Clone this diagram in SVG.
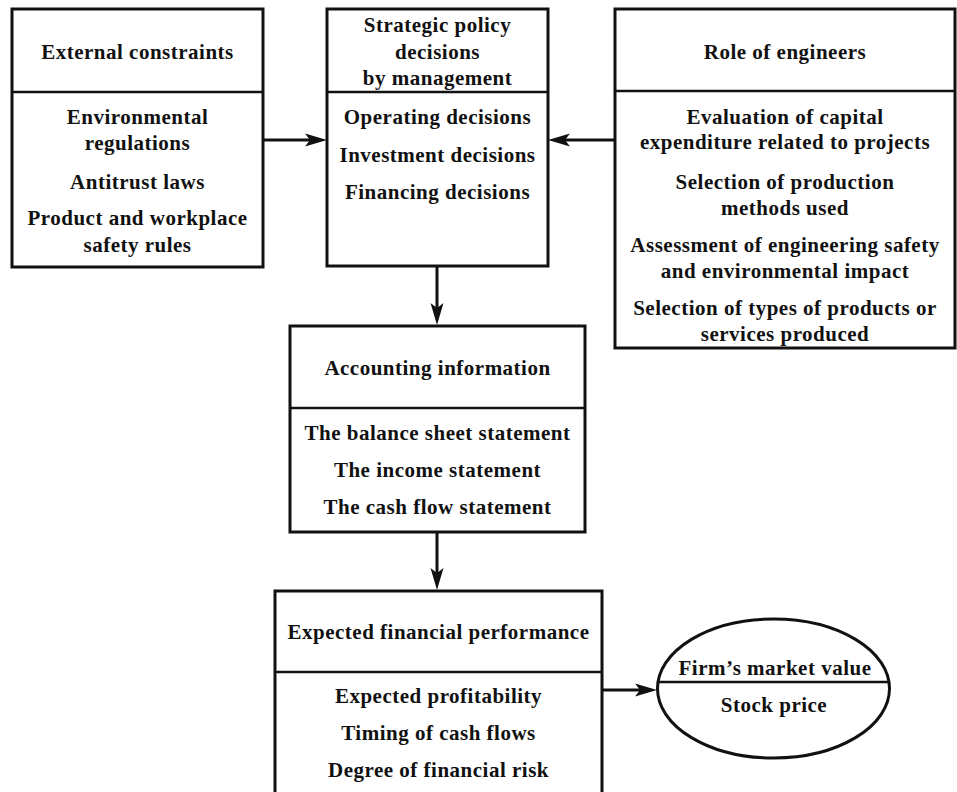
<svg xmlns="http://www.w3.org/2000/svg" width="957" height="792" viewBox="0 0 957 792">
<style>
  .box { fill: #ffffff; stroke: #111111; stroke-width: 3; }
  .div { stroke: #111111; stroke-width: 2.5; }
  .conn { stroke: #111111; stroke-width: 3; fill: none; }
  text { font-family: "Liberation Serif", "Times New Roman", serif; font-weight: bold; font-size: 21px; letter-spacing: 0.5px; fill: #111111; text-anchor: middle; }
</style>
<defs>
  <marker id="arr" markerUnits="userSpaceOnUse" markerWidth="24" markerHeight="16" viewBox="0 -8 24 16" refX="12" refY="0" orient="auto">
    <path d="M22,0 L0,-6.5 L5,0 L0,6.5 Z" fill="#111111"/>
  </marker>
</defs>
<rect width="957" height="792" fill="#ffffff"/>

<g id="connectors">
  <line class="conn" x1="263" y1="140" x2="317" y2="140" marker-end="url(#arr)"/>
  <line class="conn" x1="615" y1="140" x2="558" y2="140" marker-end="url(#arr)"/>
  <line class="conn" x1="437" y1="266" x2="437" y2="315" marker-end="url(#arr)"/>
  <line class="conn" x1="437" y1="532" x2="437" y2="580" marker-end="url(#arr)"/>
  <line class="conn" x1="602" y1="690" x2="647" y2="690" marker-end="url(#arr)"/>
</g>

<g id="external-constraints">
  <rect class="box" x="12" y="9" width="251" height="258"/>
  <line class="div" x1="12" y1="92" x2="263" y2="92"/>
  <text x="137.5" y="59">External constraints</text>
  <text x="137.5" y="124">Environmental</text>
  <text x="137.5" y="150">regulations</text>
  <text x="137.5" y="189">Antitrust laws</text>
  <text x="137.5" y="225">Product and workplace</text>
  <text x="137.5" y="252">safety rules</text>
</g>

<g id="strategic-policy">
  <rect class="box" x="327" y="9" width="221" height="257"/>
  <line class="div" x1="327" y1="92" x2="548" y2="92"/>
  <text x="437.5" y="32">Strategic policy</text>
  <text x="437.5" y="59">decisions</text>
  <text x="437.5" y="85">by management</text>
  <text x="437.5" y="124">Operating decisions</text>
  <text x="437.5" y="162">Investment decisions</text>
  <text x="437.5" y="199">Financing decisions</text>
</g>

<g id="role-of-engineers">
  <rect class="box" x="615" y="9" width="340" height="339"/>
  <line class="div" x1="615" y1="91" x2="955" y2="91"/>
  <text x="785" y="59">Role of engineers</text>
  <text x="785" y="124">Evaluation of capital</text>
  <text x="785" y="149">expenditure related to projects</text>
  <text x="785" y="189">Selection of production</text>
  <text x="785" y="215">methods used</text>
  <text x="785" y="252">Assessment of engineering safety</text>
  <text x="785" y="278">and environmental impact</text>
  <text x="785" y="315">Selection of types of products or</text>
  <text x="785" y="341">services produced</text>
</g>

<g id="accounting-information">
  <rect class="box" x="290" y="326" width="295" height="206"/>
  <line class="div" x1="290" y1="408" x2="585" y2="408"/>
  <text x="437.5" y="375">Accounting information</text>
  <text x="437.5" y="440">The balance sheet statement</text>
  <text x="437.5" y="477">The income statement</text>
  <text x="437.5" y="514">The cash flow statement</text>
</g>

<g id="expected-financial-performance">
  <rect class="box" x="275" y="591" width="327" height="215"/>
  <line class="div" x1="275" y1="672" x2="602" y2="672"/>
  <text x="438.5" y="639">Expected financial performance</text>
  <text x="438.5" y="703">Expected profitability</text>
  <text x="438.5" y="740">Timing of cash flows</text>
  <text x="438.5" y="777">Degree of financial risk</text>
</g>

<g id="firms-market-value">
  <ellipse class="box" cx="773.5" cy="688.5" rx="116" ry="69.5"/>
  <line class="div" x1="658" y1="682" x2="889" y2="682"/>
  <text x="775" y="675">Firm’s market value</text>
  <text x="774" y="712">Stock price</text>
</g>
</svg>
